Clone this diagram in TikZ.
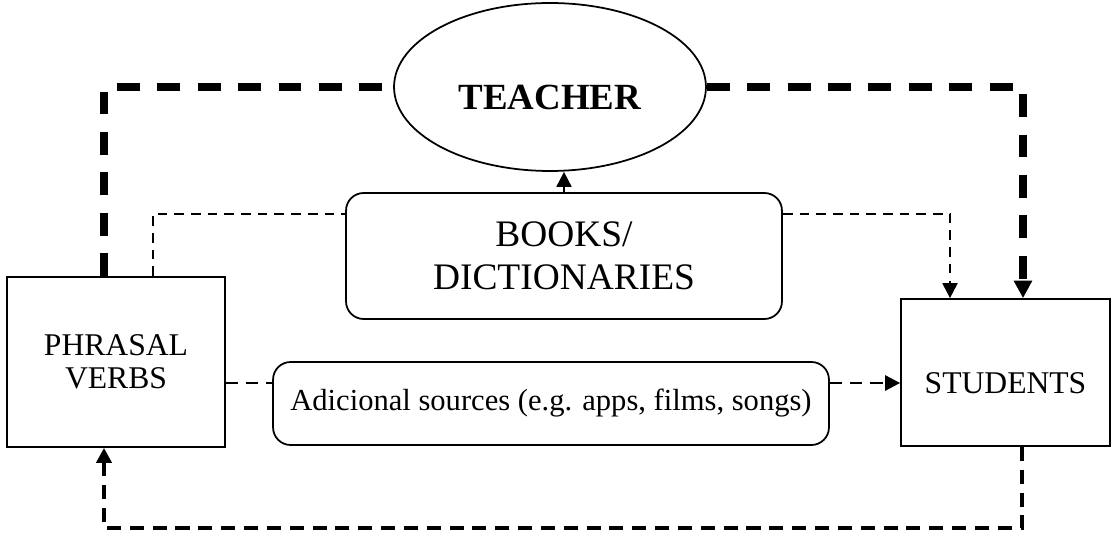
\documentclass[tikz,border=0pt]{standalone}
\usepackage{fontspec}
\setmainfont{Liberation Serif}
\usetikzlibrary{arrows.meta, shapes.geometric}

\begin{document}
\begin{tikzpicture}[
    x=0.02cm, y=-0.02cm,
    >={Triangle[length=8.5pt,width=8.5pt]},
    sqbox/.style={draw, line width=1pt, align=center,
                  font=\fontsize{18}{19}\selectfont},
    rbox/.style={draw, line width=1pt, rounded corners=10pt, align=center},
    oval/.style={draw, ellipse, line width=1pt, inner sep=0pt,
                 minimum width=6.24cm, minimum height=3.36cm,
                 font=\fontsize{21}{24}\selectfont\bfseries},
    bigdash/.style={line width=4pt, dash pattern=on 13pt off 10pt},
    smalldash/.style={line width=1.2pt, dash pattern=on 5.5pt off 4pt},
    middash/.style={line width=1.5pt, dash pattern=on 7pt off 4.5pt},
    loopdash/.style={line width=2.2pt, dash pattern=on 8pt off 5pt},
  ]
  \useasboundingbox (0,0) rectangle (1113,536);

  %% ---- nodes ---------------------------------------------------------
  \node[oval, text height=26pt, text depth=0pt] (teacher) at (550,87)
        {TEACHER};
  \node[rbox, minimum width=8.72cm, minimum height=2.52cm,
        font=\fontsize{21.3}{24.5}\selectfont] (books) at (564,256)
        {BOOKS/\\DICTIONARIES};
  \node[sqbox, minimum width=4.36cm, minimum height=3.4cm] (phrasal)
        at (116,362) {PHRASAL\\VERBS};
  \node[rbox, minimum width=11.12cm, minimum height=1.66cm,
        font=\fontsize{17.4}{21}\selectfont] (sources) at (551,403.5)
        {Adicional sources (e.g. apps, films, songs)};
  \node[sqbox, minimum width=4.18cm, minimum height=2.94cm,
        text height=24pt, text depth=0pt] (students)
        at (1005.5,372.5) {STUDENTS};

  %% ---- corner points of the connectors -------------------------------
  \coordinate (tl) at (104,87);
  \coordinate (tr) at (1023,87);
  \coordinate (bl) at (153,214);
  \coordinate (br) at (950,214);
  \coordinate (mid) at (560,383);
  \coordinate (ll) at (104,528);
  \coordinate (lr) at (1022,528);

  %% ---- teacher links (thick) -----------------------------------------
  \draw[bigdash] (tl |- phrasal.north) -- (tl) -- (teacher.west);
  \draw[bigdash, -{Triangle[length=10pt,width=10pt]}]
        (teacher.east) -- (tr) -- (tr |- students.north);

  %% ---- books links ---------------------------------------------------
  \draw[smalldash] (bl |- phrasal.north) -- (bl) -- (bl -| books.west);
  \draw[smalldash, ->] (br -| books.east) -- (br) -- (br |- students.north);
  \draw[line width=1pt, ->] (books.north) -- (books.north |- teacher.south);

  %% ---- other sources and the way back --------------------------------
  \draw[middash] (mid -| phrasal.east) -- (mid -| sources.west);
  \draw[middash, ->] (mid -| sources.east) -- (mid -| students.west);
  \draw[loopdash, ->] (lr |- students.south) -- (lr) -- (ll)
        -- (ll |- phrasal.south);

\end{tikzpicture}
\end{document}
